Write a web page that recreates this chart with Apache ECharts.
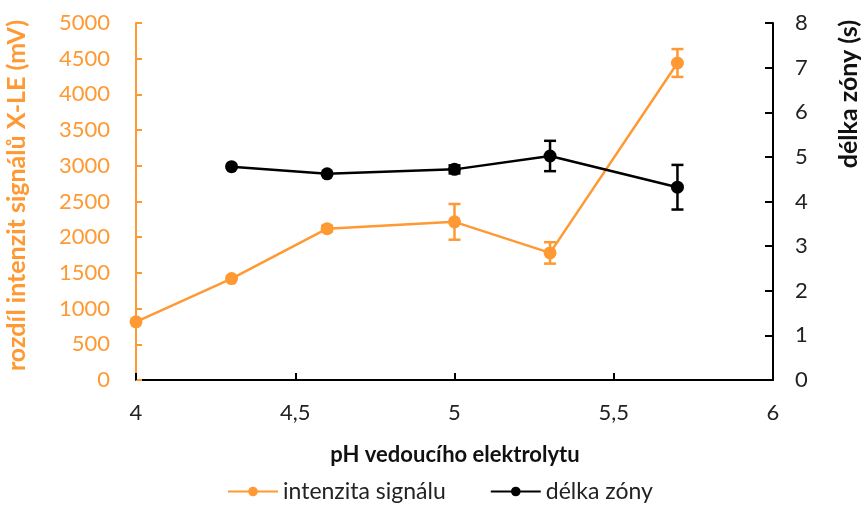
<!DOCTYPE html>
<html><head><meta charset="utf-8">
<script src="https://cdn.jsdelivr.net/npm/echarts@6/dist/echarts.min.js"></script>
<style>html,body{margin:0;padding:0;background:#fff}#c{width:866px;height:508px}</style>
</head><body><div id="c"></div>
<script>
const intensityPH = [4, 4.3, 4.6, 5, 5.3, 5.7];
const intensity = [815, 1420, 2120, 2215, 1780, 4440];
const intensityErr = [0, 0, 40, 250, 150, 195];
const zonePH = [4.3, 4.6, 5, 5.3, 5.7];
const zoneLength = [4.78, 4.62, 4.72, 5.02, 4.32];
const zoneErr = [0, 0, 0.09, 0.34, 0.5];
const xTicks = [4, 4.5, 5, 5.5, 6];

const ORANGE = '#FF9933';
const FONT = 'Lato';

function errData(xs, ys, es){ return xs.map((x,i)=>[x, ys[i]-es[i], ys[i]+es[i]]); }
function errRender(color){
  return function(params, api){
    const x = api.value(0);
    const lo = api.coord([x, api.value(1)]);
    const hi = api.coord([x, api.value(2)]);
    if (Math.abs(hi[1]-lo[1]) < 1) return null;
    const w = 6;
    const st = {stroke: color, lineWidth: 2.5};
    return {type:'group', children:[
      {type:'line', shape:{x1:lo[0],y1:lo[1],x2:hi[0],y2:hi[1]}, style:st},
      {type:'line', shape:{x1:lo[0]-w,y1:lo[1],x2:lo[0]+w,y2:lo[1]}, style:st},
      {type:'line', shape:{x1:hi[0]-w,y1:hi[1],x2:hi[0]+w,y2:hi[1]}, style:st}
    ]};
  };
}

const chart = echarts.init(document.getElementById('c'));
chart.setOption({
  animation:false,
  textStyle:{fontFamily:FONT},
  grid:{left:136, right:93, top:23, bottom:128},
  legend:{
    bottom:0, left:222, itemGap:44, itemWidth:50, itemHeight:12,
    textStyle:{fontFamily:FONT, fontSize:23, color:'#222'},
    data:['intenzita signálu','délka zóny']
  },
  xAxis:{
    type:'value', min:4, max:6, interval:0.5,
    axisLine:{lineStyle:{color:'#000', width:2}},
    axisTick:{inside:true, length:7, lineStyle:{color:'#000', width:2}},
    splitLine:{show:false},
    axisLabel:{margin:22, fontSize:22, color:'#222', fontFamily:FONT,
      formatter:v=>{ const t = xTicks.find(k=>Math.abs(k-v)<1e-9); return String(t!==undefined?t:v).replace('.', ','); }}
  },
  yAxis:[{
    type:'value', min:0, max:5000, interval:500, position:'left',
    axisLine:{show:true, lineStyle:{color:ORANGE, width:2}},
    axisTick:{show:true, inside:true, length:6, lineStyle:{color:ORANGE, width:2}},
    splitLine:{show:false},
    axisLabel:{margin:26, fontSize:22, color:ORANGE, fontFamily:FONT, formatter:v=>String(v)}
  },{
    type:'value', min:0, max:8, interval:1, position:'right',
    axisLine:{show:true, lineStyle:{color:'#000', width:2}},
    axisTick:{show:true, inside:true, length:8, lineStyle:{color:'#000', width:2}},
    splitLine:{show:false},
    axisLabel:{margin:22, fontSize:22, color:'#222', fontFamily:FONT, formatter:v=>String(v)}
  }],
  graphic:[
    {type:'text', left:4, top:20, rotation:Math.PI/2, style:{text:'rozdíl intenzit signálů X-LE (mV)', fill:ORANGE, font:'bold 25px '+FONT}},
    {type:'text', right:5, top:20, rotation:Math.PI/2, style:{text:'délka zóny (s)', fill:'#111', font:'bold 25px '+FONT}},
    {type:'text', x:455, y:444, style:{text:'pH vedoucího elektrolytu', fill:'#111', font:'bold 22px '+FONT, align:'center'}}
  ],
  series:[
    {name:'intenzita signálu', type:'line', yAxisIndex:0,
     data:intensityPH.map((x,i)=>[x,intensity[i]]),
     symbol:'circle', symbolSize:13, itemStyle:{color:ORANGE},
     lineStyle:{color:ORANGE, width:2.5}, z:3},
    {name:'err1', type:'custom', yAxisIndex:0, renderItem:errRender(ORANGE),
     data:errData(intensityPH, intensity, intensityErr), z:4, silent:true},
    {name:'délka zóny', type:'line', yAxisIndex:1,
     data:zonePH.map((x,i)=>[x,zoneLength[i]]),
     symbol:'circle', symbolSize:13, itemStyle:{color:'#000'},
     lineStyle:{color:'#000', width:2.5}, z:3},
    {name:'err2', type:'custom', yAxisIndex:1, renderItem:errRender('#000'),
     data:errData(zonePH, zoneLength, zoneErr), z:4, silent:true}
  ]
});
</script></body></html>
